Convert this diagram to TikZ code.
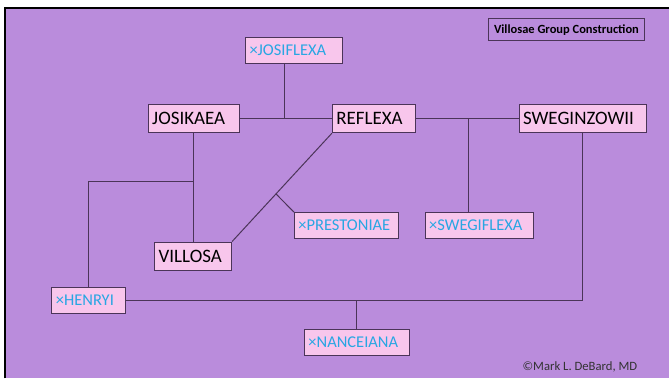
\documentclass[tikz,border=0pt]{standalone}
\usepackage{fontspec}
\setmainfont{Carlito}
\usetikzlibrary{calc}
\definecolor{bgpurple}{RGB}{186,140,220}
\definecolor{boxpink}{RGB}{248,198,236}
\definecolor{boxline}{RGB}{75,52,88}
\definecolor{crossblue}{RGB}{40,166,226}
\tikzset{
  parent/.style={draw=boxline, fill=boxpink, line width=1pt, inner xsep=4pt, inner ysep=0pt,
    minimum height=28pt, align=left, text=black, font=\fontsize{19}{20}\selectfont},
  hybrid/.style={parent, minimum height=26pt, text=crossblue, font=\fontsize{16.5}{18}\selectfont},
  link/.style={draw=boxline, line width=1pt}
}
\begin{document}
\begin{tikzpicture}[x=1pt,y=-1pt]
    \fill[white] (0,0) rectangle (670,379);
    \fill[bgpurple] (5,8) rectangle (670,379);
    \draw[line width=2.5pt] (5,379) -- (5,8) -- (670,8);
    % title and credit
    \node[draw=boxline, line width=1pt, minimum width=157pt, minimum height=22pt,
      font=\fontsize{12.5}{14}\bfseries\selectfont] (title) at (567.5,30) {Villosae Group Construction};
    \node[text=black!80, font=\fontsize{12.7}{14}\selectfont] (credit) at (581,368) {©Mark L. DeBard, MD};
    % parent species
    \node[parent, text width=83pt] (josikaea) at (194,119) {JOSIKAEA};
    \node[parent, text width=75pt] (reflexa) at (374.5,119) {REFLEXA};
    \node[parent, text width=120pt] (sweginzowii) at (584,119) {SWEGINZOWII};
    \node[parent, text width=69pt] (villosa) at (193.5,256.5) {VILLOSA};
    % hybrids
    \node[hybrid, text width=89pt] (josiflexa) at (294.5,50.5) {×JOSIFLEXA};
    \node[hybrid, text width=96pt] (prestoniae) at (347,226) {×PRESTONIAE};
    \node[hybrid, text width=100pt] (swegiflexa) at (480,226) {×SWEGIFLEXA};
    \node[hybrid, text width=66pt] (henryi) at (89,301) {×HENRYI};
    \node[hybrid, text width=97pt] (nanceiana) at (357.5,343) {×NANCEIANA};
    % crosses
    \coordinate (jr) at (285,119);
    \coordinate (rs) at (469,119);
    \coordinate (jv) at (193,182);
    \coordinate (rv) at ($(reflexa.south west)!0.56!(villosa.north east)$);
    \draw[link] (josikaea.east) -- (reflexa.west);
    \draw[link] (jr) -- (jr |- josiflexa.south);
    \draw[link] (reflexa.east) -- (sweginzowii.west);
    \draw[link] (rs) -- (rs |- swegiflexa.north);
    \draw[link] (josikaea.south) -- (josikaea.south |- villosa.north);
    \draw[link] (jv) -| (henryi.north);
    \draw[link] (reflexa.south west) -- (villosa.north east);
    \draw[link] (rv) -- (prestoniae.north west);
    \draw[link] (sweginzowii.south) |- (henryi.east);
    \draw[link] (nanceiana.north) -- (nanceiana.north |- henryi.east);
\end{tikzpicture}
\end{document}
